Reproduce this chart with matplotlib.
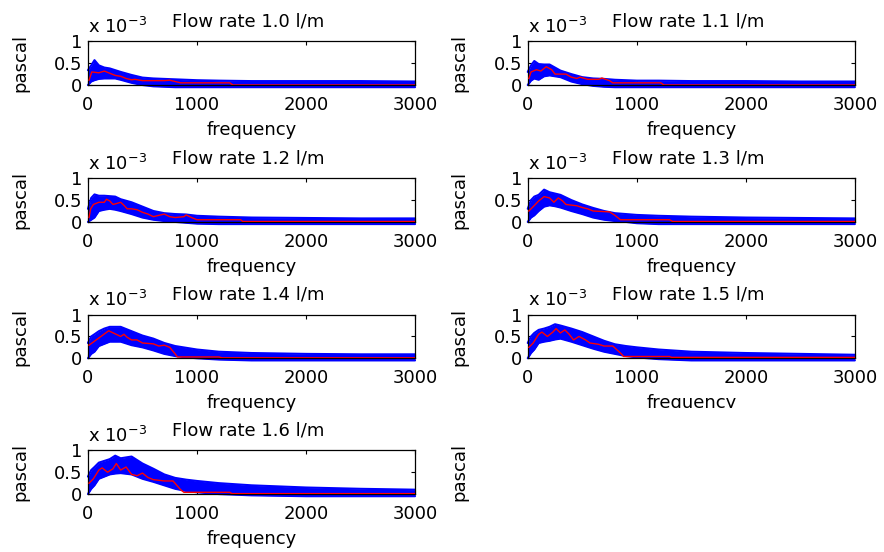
import numpy as np
import matplotlib

matplotlib.use('Agg')
import matplotlib.pyplot as plt

plt.rcParams['font.family'] = ['DejaVu Sans']
plt.rcParams['font.size'] = 13

# values are in units of 1e-3 pascal
flow_rates = ['1.0', '1.1', '1.2', '1.3', '1.4', '1.5', '1.6']

band_freq = [0, 30, 60, 100, 150, 200, 250, 300, 400, 500, 600, 700, 800, 900, 1000, 1200, 1500, 2000, 2500, 3000]
band_upper = {
    '1.0': [0.34, 0.45, 0.57, 0.45, 0.40, 0.38, 0.34, 0.30, 0.23, 0.17, 0.15, 0.14, 0.13, 0.12, 0.11, 0.10, 0.09, 0.09, 0.09, 0.08],
    '1.1': [0.30, 0.45, 0.55, 0.48, 0.47, 0.47, 0.40, 0.33, 0.25, 0.18, 0.15, 0.14, 0.12, 0.11, 0.10, 0.10, 0.09, 0.09, 0.08, 0.08],
    '1.2': [0.30, 0.55, 0.63, 0.60, 0.60, 0.59, 0.58, 0.52, 0.45, 0.35, 0.25, 0.20, 0.18, 0.17, 0.14, 0.12, 0.10, 0.09, 0.08, 0.08],
    '1.3': [0.30, 0.50, 0.58, 0.62, 0.74, 0.68, 0.65, 0.62, 0.50, 0.40, 0.32, 0.25, 0.20, 0.18, 0.16, 0.14, 0.12, 0.10, 0.09, 0.08],
    '1.4': [0.35, 0.50, 0.55, 0.62, 0.68, 0.72, 0.72, 0.72, 0.62, 0.52, 0.45, 0.35, 0.28, 0.24, 0.20, 0.15, 0.12, 0.10, 0.09, 0.09],
    '1.5': [0.35, 0.50, 0.58, 0.65, 0.68, 0.72, 0.78, 0.75, 0.68, 0.60, 0.50, 0.40, 0.32, 0.28, 0.25, 0.20, 0.15, 0.12, 0.10, 0.08],
    '1.6': [0.40, 0.55, 0.62, 0.72, 0.76, 0.80, 0.88, 0.82, 0.86, 0.70, 0.58, 0.45, 0.37, 0.33, 0.30, 0.25, 0.20, 0.15, 0.12, 0.10],
}
band_lower = {
    '1.0': [0.00, 0.08, 0.11, 0.14, 0.15, 0.15, 0.15, 0.12, 0.05, 0.00, -0.03, -0.04, -0.05, -0.05, -0.05, -0.05, -0.05, -0.05, -0.05, -0.05],
    '1.1': [0.00, 0.10, 0.15, 0.12, 0.20, 0.22, 0.20, 0.18, 0.08, 0.02, -0.02, -0.04, -0.05, -0.05, -0.05, -0.05, -0.05, -0.05, -0.05, -0.05],
    '1.2': [0.00, 0.05, 0.10, 0.25, 0.28, 0.30, 0.28, 0.25, 0.18, 0.10, 0.05, 0.02, 0.00, -0.02, -0.04, -0.05, -0.05, -0.05, -0.05, -0.05],
    '1.3': [0.00, 0.10, 0.15, 0.25, 0.35, 0.38, 0.36, 0.33, 0.25, 0.18, 0.10, 0.05, 0.02, 0.00, -0.03, -0.05, -0.05, -0.05, -0.05, -0.05],
    '1.4': [0.00, 0.10, 0.15, 0.28, 0.33, 0.38, 0.38, 0.38, 0.30, 0.25, 0.18, 0.10, 0.05, 0.02, 0.00, -0.03, -0.05, -0.05, -0.05, -0.05],
    '1.5': [0.00, 0.12, 0.20, 0.35, 0.38, 0.40, 0.43, 0.45, 0.38, 0.30, 0.22, 0.15, 0.10, 0.05, 0.02, -0.02, -0.05, -0.05, -0.05, -0.05],
    '1.6': [0.00, 0.12, 0.20, 0.35, 0.40, 0.45, 0.47, 0.48, 0.45, 0.35, 0.28, 0.20, 0.12, 0.07, 0.04, 0.00, -0.03, -0.05, -0.05, -0.05],
}

red_freq = {
    '1.0': [10, 35, 100, 150, 200, 250, 300, 350, 400, 430, 500, 700, 750, 800, 850, 1300, 1330, 3000],
    '1.1': [10, 30, 80, 120, 170, 220, 250, 350, 400, 450, 480, 550, 650, 680, 750, 780, 1220, 1250, 3000],
    '1.2': [10, 25, 50, 100, 150, 170, 200, 230, 260, 300, 330, 360, 400, 450, 500, 550, 600, 650, 700, 750, 800, 880, 900, 950, 1000, 1400, 1420, 3000],
    '1.3': [10, 50, 100, 150, 200, 240, 280, 320, 350, 450, 500, 550, 600, 750, 800, 850, 1300, 1330, 3000],
    '1.4': [10, 190, 300, 330, 360, 400, 450, 500, 600, 650, 700, 750, 800, 820, 1200, 1230, 3000],
    '1.5': [10, 50, 100, 130, 180, 230, 260, 300, 340, 380, 420, 470, 530, 570, 650, 700, 780, 850, 880, 1300, 1320, 3000],
    '1.6': [10, 50, 100, 130, 180, 230, 260, 300, 350, 400, 450, 500, 550, 600, 700, 780, 850, 880, 1300, 1320, 3000],
}
red_vals = {
    '1.0': [0.11, 0.30, 0.28, 0.32, 0.27, 0.22, 0.20, 0.15, 0.12, 0.13, 0.10, 0.10, 0.11, 0.08, 0.05, 0.05, 0.00, 0.00],
    '1.1': [0.15, 0.30, 0.35, 0.32, 0.42, 0.35, 0.25, 0.25, 0.18, 0.15, 0.18, 0.13, 0.13, 0.16, 0.10, 0.05, 0.05, 0.00, 0.00],
    '1.2': [0.10, 0.30, 0.40, 0.45, 0.45, 0.52, 0.48, 0.40, 0.42, 0.45, 0.38, 0.30, 0.30, 0.28, 0.22, 0.18, 0.12, 0.15, 0.18, 0.12, 0.10, 0.12, 0.16, 0.10, 0.05, 0.05, 0.01, 0.01],
    '1.3': [0.25, 0.35, 0.48, 0.58, 0.55, 0.45, 0.55, 0.48, 0.40, 0.37, 0.33, 0.30, 0.25, 0.23, 0.15, 0.05, 0.05, 0.01, 0.01],
    '1.4': [0.30, 0.63, 0.50, 0.55, 0.48, 0.42, 0.42, 0.35, 0.33, 0.28, 0.30, 0.25, 0.10, 0.03, 0.03, 0.01, 0.01],
    '1.5': [0.25, 0.35, 0.55, 0.60, 0.50, 0.60, 0.68, 0.58, 0.65, 0.55, 0.42, 0.50, 0.42, 0.35, 0.32, 0.28, 0.28, 0.12, 0.04, 0.04, 0.02, 0.02],
    '1.6': [0.25, 0.35, 0.55, 0.60, 0.50, 0.58, 0.70, 0.55, 0.62, 0.45, 0.42, 0.48, 0.38, 0.33, 0.30, 0.30, 0.10, 0.04, 0.04, 0.01, 0.01],
}

fig = plt.figure(figsize=(8.84, 5.52), dpi=100)

lefts = [0.0995, 0.597]
bottoms = [0.846, 0.598, 0.351, 0.105]
w, h = 0.370, 0.079


def style_axes(ax):
    ax.set_xlim(0, 3000)
    ax.set_ylim(0, 1)
    ax.set_xticks([0, 1000, 2000, 3000])
    ax.set_yticks([0, 0.5, 1])
    ax.set_yticklabels(['0', '0.5', '1'])
    ax.tick_params(direction='in', top=True, right=True, length=3, width=0.8, labelsize=13)
    ax.tick_params(axis='x', pad=8)
    ax.tick_params(axis='y', pad=4)
    for s in ax.spines.values():
        s.set_linewidth(0.9)
    ax.set_xlabel('frequency', labelpad=5)
    ax.set_ylabel('pascal')
    ax.yaxis.set_label_coords(-0.18, 0.5)


for i, fr in enumerate(flow_rates):
    row, col = divmod(i, 2)
    ax = fig.add_axes([lefts[col], bottoms[row], w, h])
    up = np.array(band_upper[fr])
    lo = np.array(band_lower[fr])
    ax.fill_between(band_freq, lo, up, color='blue', linewidth=0, clip_on=False, zorder=2)
    ax.plot(band_freq, up, color='blue', lw=1.5, solid_capstyle='round', solid_joinstyle='round', clip_on=False, zorder=2)
    ax.plot(band_freq, lo, color='blue', lw=1.5, solid_capstyle='round', solid_joinstyle='round', clip_on=False, zorder=2)
    ax.plot(red_freq[fr], red_vals[fr], color='red', lw=1, zorder=3)
    style_axes(ax)
    ax.set_title('Flow rate %s l/m' % fr, fontsize=13, pad=11, x=0.49)
    ax.text(0.0, 1.2, r'x 10$^{-3}$', transform=ax.transAxes, fontsize=13, ha='left', va='baseline')

# empty eighth panel: white background hides the bottom of the label above it
ax8 = fig.add_axes([lefts[1], 12 / 552, w, (408 - 12) / 552 * 0 + (540 - 408) / 552])
ax8.set_axis_off()
ax8.add_patch(plt.Rectangle((0, 0), 1, 1, transform=ax8.transAxes, color='white', zorder=0))
fig.text(lefts[1] - 0.18 * w, bottoms[3] + h / 2, 'pascal', rotation=90, ha='right', va='center', fontsize=13)

fig.savefig('out.png', dpi=100)
